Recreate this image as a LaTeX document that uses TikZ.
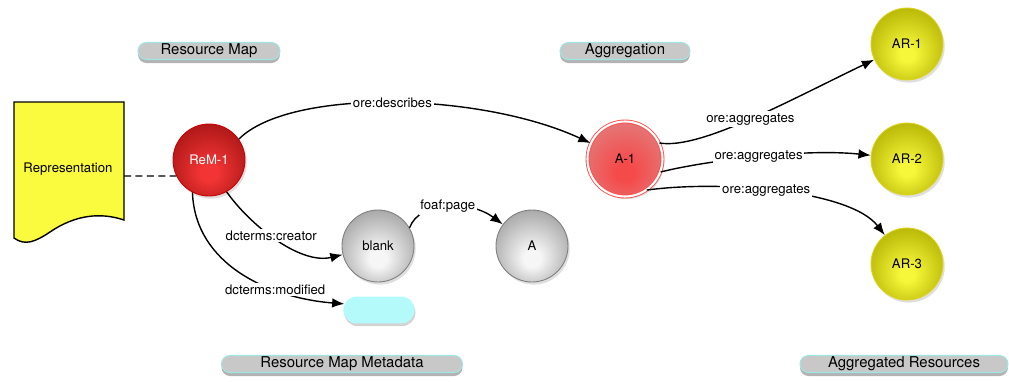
\documentclass[tikz,border=0pt]{standalone}
\usepackage{fontspec}
\setmainfont{TeX Gyre Heros}
\usetikzlibrary{shapes.misc,shadows,arrows.meta}

\definecolor{remlo}{HTML}{A81515}
\definecolor{remhi}{HTML}{F23434}
\definecolor{agglo}{HTML}{E47878}
\definecolor{agghi}{HTML}{F54A4A}
\definecolor{arlo}{HTML}{B0B000}
\definecolor{arhi}{HTML}{F6F63A}
\definecolor{blanklo}{HTML}{A0A0A0}
\definecolor{blankhi}{HTML}{F6F6F6}
\definecolor{pillgray}{HTML}{C8C8C8}
\definecolor{pillrim}{HTML}{A2E4E4}
\definecolor{metacyan}{HTML}{B4FAFA}
\definecolor{docyellow}{HTML}{FAFA3E}

%% ball shadings, light spot low in the circle
\pgfdeclareradialshading{remball}{\pgfpoint{0bp}{-10bp}}{color(0bp)=(remhi); color(6bp)=(remhi); color(32bp)=(remlo); color(50bp)=(remlo)}
\pgfdeclareradialshading{aggball}{\pgfpoint{0bp}{-10bp}}{color(0bp)=(agghi); color(6bp)=(agghi); color(30bp)=(agglo); color(50bp)=(agglo)}
\pgfdeclareradialshading{arball}{\pgfpoint{0bp}{-8bp}}{color(0bp)=(arhi); color(5bp)=(arhi); color(32bp)=(arlo); color(50bp)=(arlo)}
\pgfdeclareradialshading{blankball}{\pgfpoint{0bp}{-10bp}}{color(0bp)=(blankhi); color(6bp)=(blankhi); color(32bp)=(blanklo); color(50bp)=(blanklo)}

\tikzset{
  ball/.style={circle, minimum size=1.44cm, inner sep=0pt, line width=0.5pt,
    drop shadow={opacity=0.25, shadow xshift=1pt, shadow yshift=-1.5pt}},
  pill/.style={rounded rectangle, draw=pillrim, line width=0.6pt, fill=pillgray,
    minimum height=0.34cm, inner sep=0pt, font=\fontsize{8.5}{10}\selectfont,
    drop shadow={opacity=0.6, shadow xshift=0pt, shadow yshift=-2pt}},
  rel/.style={line width=0.8pt, -{Latex[length=7pt,width=5.5pt]}},
  lbl/.style={fill=white, inner sep=1pt, font=\fontsize{7.5}{9}\selectfont},
}

\begin{document}
\begin{tikzpicture}[x=0.02cm, y=-0.02cm, font=\fontsize{7.5}{9}\selectfont]
    \useasboundingbox (0,0) rectangle (1009,382);
    %% group captions
    \node[pill, minimum width=2.84cm] (capmap) at (209,51) {Resource Map};
    \node[pill, minimum width=2.6cm] (capagg) at (625,51) {Aggregation};
    \node[pill, minimum width=4.82cm] (capmeta) at (342,364) {Resource Map Metadata};
    \node[pill, minimum width=4.16cm] (capres) at (904,364) {Aggregated Resources};
    %% representation document
    \draw[fill=docyellow, line width=0.8pt] (14,102) -- (124,102) -- (124,220)
        .. controls (100,212) and (75,215) .. (50,232)
        .. controls (35,242) and (25,246) .. (14,238) -- cycle;
    \node (rep) at (68,169) {Representation};
    \coordinate (repE) at (124,176);
    %% resource map
    \node[ball, shading=remball, draw=red!80!black, text=white] (rem) at (209,160) {ReM-1};
    %% aggregation
    \node[ball, shading=aggball, draw=red!70, minimum size=1.5cm, double=white, double distance=1.2pt] (agg) at (625,159) {A-1};
    %% aggregated resources
    \node[ball, shading=arball, draw=yellow!85!black] (ar1) at (907,44) {AR-1};
    \node[ball, shading=arball, draw=yellow!85!black] (ar2) at (907,159) {AR-2};
    \node[ball, shading=arball, draw=yellow!85!black] (ar3) at (907,264) {AR-3};
    %% metadata
    \node[ball, shading=blankball, draw=gray] (blank) at (378,246) {blank};
    \node[ball, shading=blankball, draw=gray] (page) at (532,246) {A};
    \node[rounded rectangle, fill=metacyan, minimum width=1.66cm, minimum height=0.54cm,
        drop shadow={opacity=0.35, shadow xshift=0.5pt, shadow yshift=-1.5pt}] (mod) at (379,310) {};
    %% connectors
    \draw[line width=0.8pt, dash pattern=on 4pt off 2.5pt] (repE) -- (rem.206);
    \draw[rel] (rem.35) .. controls (290,88) and (480,92) .. node[lbl, pos=0.5] {ore:describes} (agg);
    \draw[rel] (agg.25) .. controls (700,150) and (790,100) .. node[lbl, pos=0.5] {ore:aggregates} (ar1);
    \draw[rel] (agg.-20) .. controls (700,162) and (800,148) .. node[lbl, pos=0.52] {ore:aggregates} (ar2);
    \draw[rel] (agg.-55) .. controls (720,180) and (850,190) .. node[lbl, pos=0.45] {ore:aggregates} (ar3);
    \draw[rel] (rem.-61) .. controls (250,225) and (300,265) .. node[lbl, pos=0.45] {dcterms:creator} (blank);
    \draw[rel] (rem.-117) .. controls (195,265) and (270,298) .. node[lbl, pos=0.68] {dcterms:modified} (mod.170);
    \draw[rel] (blank.30) .. controls (420,200) and (470,200) .. node[lbl, pos=0.5] {foaf:page} (page);
\end{tikzpicture}
\end{document}
